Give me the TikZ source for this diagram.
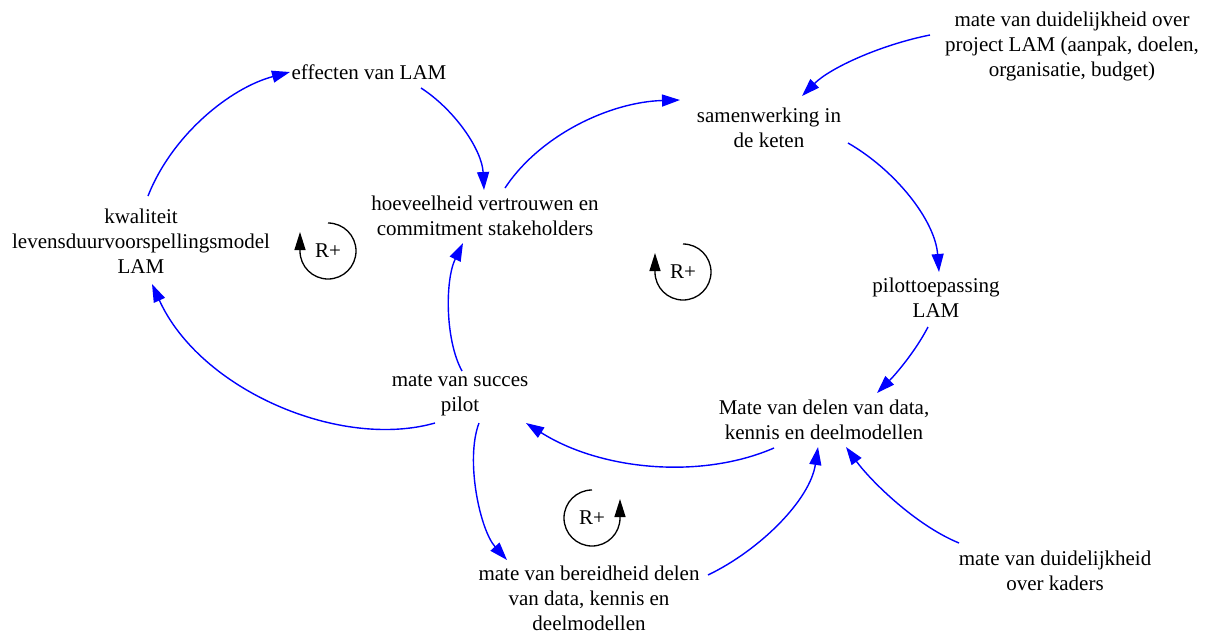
\documentclass[tikz,border=0pt]{standalone}
\usepackage{fontspec}
\setmainfont{Liberation Serif}
\usetikzlibrary{arrows.meta}
\tikzset{
  var/.style={align=center, font=\fontsize{21}{25}\selectfont, inner sep=0pt},
  link/.style={draw={rgb,255:red,0;green,0;blue,255}, line width=1.4pt,
    -{Triangle[length=18pt,width=12pt]}},
  loopsym/.style={draw=black, line width=1.3pt, -{Triangle[length=18pt,width=11pt]}},
  looplabel/.style={font=\fontsize{21}{25}\selectfont, inner sep=0pt}
}
\begin{document}
\begin{tikzpicture}[x=1pt,y=-1pt]
\useasboundingbox (0,0) rectangle (1218,630);

% variables
\node[var] (eff) at (369,72) {effecten van LAM};
\node[var] (hv) at (485,216) {hoeveelheid vertrouwen en\\commitment stakeholders};
\node[var] (sw) at (769,128) {samenwerking in\\de keten};
\node[var] (dp) at (1072,46) {mate van duidelijkheid over\\project LAM (aanpak, doelen,\\organisatie, budget)};
\node[var] (kw) at (141,241) {kwaliteit\\levensduurvoorspellingsmodel\\LAM};
\node[var] (pt) at (936,298) {pilottoepassing\\LAM};
\node[var] (md) at (824,420) {Mate van delen van data,\\kennis en deelmodellen};
\node[var] (ms) at (460,395) {mate van succes\\pilot};
\node[var] (bd) at (589,598) {mate van bereidheid delen\\van data, kennis en\\deelmodellen};
\node[var] (dk) at (1055,571) {mate van duidelijkheid\\over kaders};

% causal links
\draw[link] ([shift={(7,-45)}]kw.center) .. controls (172,135) and (230,88) .. ([shift={(-79,0)}]eff.center);
\draw[link] ([shift={(52,16)}]eff.center) .. controls (455,110) and (482,150) .. ([shift={(-1,-26)}]hv.center);
\draw[link] ([shift={(20,-28)}]hv.center) .. controls (540,135) and (610,102) .. ([shift={(-89,-28)}]sw.center);
\draw[link] ([shift={(-142,-11)}]dp.center) .. controls (880,45) and (830,68) .. ([shift={(33,-32)}]sw.center);
\draw[link] ([shift={(79,15)}]sw.center) .. controls (895,170) and (935,220) .. ([shift={(3,-26)}]pt.center);
\draw[link] ([shift={(-8,29)}]pt.center) .. controls (915,352) and (895,375) .. ([shift={(53,-27)}]md.center);
\draw[link] ([shift={(-50,28)}]md.center) .. controls (700,480) and (600,470) .. ([shift={(66,28)}]ms.center);
\draw[link] ([shift={(-25,28)}]ms.center) .. controls (340,450) and (200,390) .. ([shift={(11,43)}]kw.center);
\draw[link] ([shift={(2,-24)}]ms.center) .. controls (445,340) and (445,280) .. ([shift={(-22,27)}]hv.center);
\draw[link] ([shift={(19,28)}]ms.center) .. controls (465,460) and (480,530) .. ([shift={(-82,-38)}]bd.center);
\draw[link] ([shift={(119,-23)}]bd.center) .. controls (760,550) and (810,500) .. ([shift={(-6,27)}]md.center);
\draw[link] ([shift={(-96,-28)}]dk.center) .. controls (915,525) and (870,480) .. ([shift={(22,27)}]md.center);

% loop markers
\node[looplabel] (r1) at (328,251) {R+};
\draw[loopsym] ([shift={(0,-28)}]r1.center) arc[start angle=-90, end angle=180, radius=28] -- ++(0,-19);
\node[looplabel] (r2) at (683,272) {R+};
\draw[loopsym] ([shift={(0,-28)}]r2.center) arc[start angle=-90, end angle=180, radius=28] -- ++(0,-19);
\node[looplabel] (r3) at (592,518) {R+};
\draw[loopsym] ([shift={(0,-28)}]r3.center) arc[start angle=-90, end angle=-360, radius=28] -- ++(0,-19);
\end{tikzpicture}
\end{document}
